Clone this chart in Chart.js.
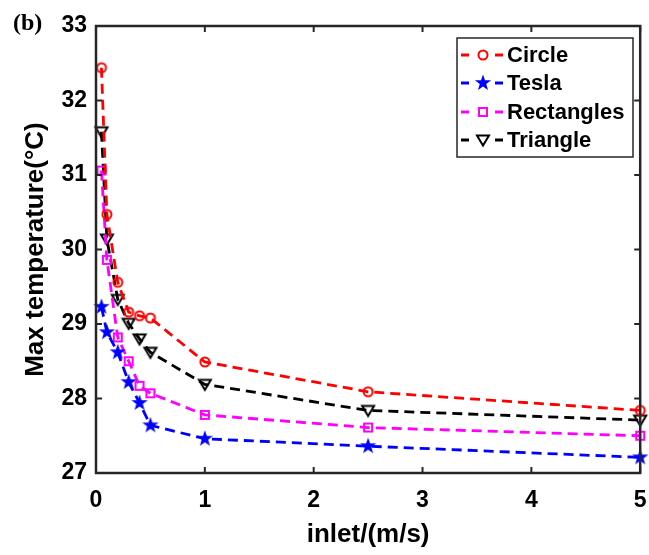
<!DOCTYPE html>
<html>
<head>
	<meta charset="utf-8">
	<title>Max temperature vs inlet velocity</title>
	<style>
		html, body { margin: 0; padding: 0; background: #fff; }
		#wrap { position: relative; width: 649px; height: 555px; }
	</style>
</head>
<body>
	<div id="wrap"><canvas id="tempChart" width="649" height="555"></canvas></div>

	<script src="https://cdn.jsdelivr.net/npm/chart.js@4.4.1/dist/chart.umd.min.js"></script>
	<script type="text/javascript">
		// inlet velocity (m/s)
		const inlet = [0.05, 0.1, 0.2, 0.3, 0.4, 0.5, 1, 2.5, 5];
		// max temperature (°C) per design
		const circle     = [32.44, 30.47, 29.56, 29.16, 29.11, 29.08, 28.49, 28.09, 27.84];
		const tesla      = [29.23, 28.89, 28.62, 28.22, 27.94, 27.64, 27.46, 27.36, 27.21];
		const rectangles = [31.06, 29.86, 28.82, 28.50, 28.17, 28.07, 27.78, 27.61, 27.50];
		const triangle   = [31.58, 30.14, 29.33, 29.01, 28.80, 28.62, 28.19, 27.84, 27.71];

		const seriesNames = ['Circle', 'Tesla', 'Rectangles', 'Triangle'];
		const xTicks = [0, 1, 2, 3, 4, 5];
		const yTicks = [27, 28, 29, 30, 31, 32, 33];

		const axisColor = '#262626';
		const sans = '"Liberation Sans", Arial, sans-serif';

		// marker images, used both for the points and the legend
		function makeMarker(kind, color) {
			const c = document.createElement('canvas');
			c.width = 20; c.height = 20;
			const g = c.getContext('2d');
			g.translate(10, 10);
			g.strokeStyle = color;
			g.fillStyle = color;
			g.lineWidth = 2;
			if (kind === 'circle') {
				g.beginPath(); g.arc(0, 0, 4.5, 0, Math.PI * 2); g.stroke();
			} else if (kind === 'square') {
				g.strokeRect(-4, -4, 8, 8);
			} else if (kind === 'tri') {
				g.beginPath(); g.moveTo(-6, -4.5); g.lineTo(6, -4.5); g.lineTo(0, 5.5); g.closePath(); g.stroke();
			} else if (kind === 'star') {
				g.beginPath();
				for (let i = 0; i < 10; i++) {
					const r = i % 2 === 0 ? 8.5 : 3.4;
					const a = -Math.PI / 2 + i * Math.PI / 5;
					g.lineTo(r * Math.cos(a), r * Math.sin(a));
				}
				g.closePath(); g.fill();
			}
			return c;
		}

		const colors = ['#ff0000', '#0000ff', '#ff00ff', '#000000'];
		const markers = [
			makeMarker('circle', colors[0]),
			makeMarker('star', colors[1]),
			makeMarker('square', colors[2]),
			makeMarker('tri', colors[3])
		];
		const values = [circle, tesla, rectangles, triangle];

		const datasets = values.map((vals, i) => ({
			label: seriesNames[i],
			data: inlet.map((x, j) => ({ x: x, y: vals[j] })),
			borderColor: colors[i],
			backgroundColor: colors[i],
			borderWidth: 2.8,
			borderDash: [10, 6],
			pointStyle: markers[i],
			pointRadius: 6,
			tension: 0,
			clip: false
		}));

		// axes box with inward ticks (MATLAB look)
		const frame = {
			id: 'frame',
			afterDatasetsDraw(chart) {
				const { ctx, chartArea: a, scales: { x, y } } = chart;
				ctx.save();
				ctx.strokeStyle = axisColor;
				ctx.lineWidth = 2.5;
				ctx.strokeRect(a.left, a.top, a.right - a.left, a.bottom - a.top);
				ctx.lineWidth = 2;
				ctx.beginPath();
				xTicks.forEach(v => {
					const px = x.getPixelForValue(v);
					ctx.moveTo(px, a.bottom); ctx.lineTo(px, a.bottom - 6);
					ctx.moveTo(px, a.top); ctx.lineTo(px, a.top + 6);
				});
				yTicks.forEach(v => {
					const py = y.getPixelForValue(v);
					ctx.moveTo(a.left, py); ctx.lineTo(a.left + 6, py);
					ctx.moveTo(a.right, py); ctx.lineTo(a.right - 6, py);
				});
				ctx.stroke();
				ctx.restore();
			},
			afterDraw(chart) {
				const ctx = chart.ctx;
				ctx.save();
				// legend box
				const bx = 457, by = 38, bw = 176, bh = 119;
				ctx.fillStyle = '#fff';
				ctx.fillRect(bx, by, bw, bh);
				ctx.strokeStyle = axisColor;
				ctx.lineWidth = 1.5;
				ctx.strokeRect(bx, by, bw, bh);
				const rows = [55, 83, 112, 140];
				ctx.font = 'bold 22px ' + sans;
				ctx.textBaseline = 'middle';
				ctx.textAlign = 'left';
				rows.forEach((ry, i) => {
					ctx.strokeStyle = colors[i];
					ctx.lineWidth = 2.8;
					ctx.beginPath();
					ctx.moveTo(461, ry); ctx.lineTo(469, ry);
					ctx.moveTo(495, ry); ctx.lineTo(503, ry);
					ctx.stroke();
					ctx.drawImage(markers[i], 483 - 10, ry - 10);
					ctx.fillStyle = '#000';
					ctx.fillText(seriesNames[i], 507, ry + 1);
				});
				// panel label
				ctx.font = 'bold 24px "Liberation Serif", "Times New Roman", serif';
				ctx.fillStyle = '#000';
				ctx.fillText('(b)', 13, 24);
				ctx.restore();
			}
		};

		const ctx = document.getElementById('tempChart').getContext('2d');
		const chart = new Chart(ctx, {
			type: 'line',
			data: { datasets: datasets },
			options: {
				responsive: false,
				devicePixelRatio: 1,
				animation: false,
				layout: { padding: { top: 26, right: 4, left: 0, bottom: 0 } },
				plugins: {
					legend: { display: false },
					tooltip: { enabled: false }
				},
				scales: {
					x: {
						type: 'linear',
						min: 0,
						max: 5,
						afterBuildTicks: s => { s.ticks = xTicks.map(v => ({ value: v })); },
						ticks: {
							color: '#000',
							font: { family: sans, size: 23, weight: 'bold' },
							padding: 14,
							maxRotation: 0
						},
						grid: { display: false, drawTicks: false },
						border: { display: false },
						title: {
							display: true,
							text: 'inlet/(m/s)',
							color: '#000',
							font: { family: sans, size: 26, weight: 'bold' },
							padding: { top: 0, bottom: 5 }
						},
						afterFit: s => { s.height = 82; s.paddingLeft = 0; s.paddingRight = 0; }
					},
					y: {
						min: 27,
						max: 33,
						afterBuildTicks: s => { s.ticks = yTicks.map(v => ({ value: v })); },
						ticks: {
							color: '#000',
							font: { family: sans, size: 23, weight: 'bold' },
							padding: 9
						},
						grid: { display: false, drawTicks: false },
						border: { display: false },
						title: {
							display: true,
							text: 'Max temperature(°C)',
							color: '#000',
							font: { family: sans, size: 26, weight: 'bold' },
							padding: { top: 20, bottom: 0 }
						},
						afterFit: s => { s.width = 96; s.paddingTop = 0; s.paddingBottom = 0; }
					}
				}
			},
			plugins: [frame]
		});
	</script>
</body>
</html>
